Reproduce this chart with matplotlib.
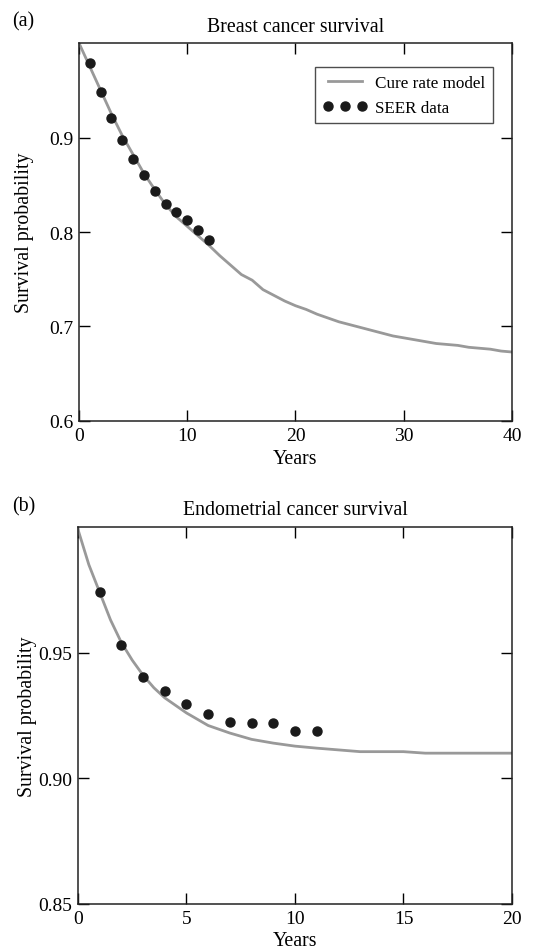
import matplotlib
matplotlib.use("Agg")
import matplotlib.pyplot as plt

plt.rcParams['font.family'] = ['Liberation Serif', 'DejaVu Serif']
plt.rcParams['mathtext.fontset'] = 'stix'

# Panel (a): breast cancer
a_model_years = list(range(0, 41))
a_model_surv = [1.000, 0.975, 0.950, 0.925, 0.902, 0.882, 0.862, 0.845, 0.829, 0.816,
                0.806, 0.796, 0.786, 0.775, 0.765, 0.755, 0.749, 0.739, 0.733, 0.727,
                0.722, 0.718, 0.713, 0.709, 0.705, 0.702, 0.699, 0.696, 0.693, 0.690,
                0.688, 0.686, 0.684, 0.682, 0.681, 0.680, 0.678, 0.677, 0.676, 0.674, 0.673]
a_seer_years = [1, 2, 3, 4, 5, 6, 7, 8, 9, 10, 11, 12]
a_seer_surv = [0.979, 0.948, 0.921, 0.897, 0.877, 0.860, 0.843, 0.830, 0.821, 0.813, 0.802, 0.792]

# Panel (b): endometrial cancer
b_model_years = [0, 0.5, 1, 1.5, 2, 2.5, 3, 3.5, 4, 5, 6, 7, 8, 9, 10, 11, 12, 13, 14, 15, 16, 17, 18, 19, 20]
b_model_surv = [0.999, 0.985, 0.974, 0.963, 0.954, 0.947, 0.941, 0.936, 0.932, 0.926, 0.921,
                0.918, 0.9155, 0.914, 0.9128, 0.912, 0.9113, 0.9106, 0.9106, 0.9106, 0.910,
                0.910, 0.910, 0.910, 0.910]
b_seer_years = [1, 2, 3, 4, 5, 6, 7, 8, 9, 10, 11]
b_seer_surv = [0.974, 0.953, 0.9405, 0.9346, 0.9294, 0.9255, 0.9223, 0.9219, 0.9219, 0.9188, 0.9188]

LINE_COLOR = '#999999'
DOT_COLOR = '#1a1a1a'

fig = plt.figure(figsize=(5.55, 9.53), dpi=100)
ax1 = fig.add_axes([0.1423, 0.5572, 0.7802, 0.3966])
ax2 = fig.add_axes([0.1405, 0.0504, 0.7820, 0.3956])


def style(ax):
    ax.tick_params(direction='in', length=8, width=1, top=True, right=True,
                   labelsize=14, pad=4)
    for s in ax.spines.values():
        s.set_linewidth(1.1)
        s.set_color('#222222')


ax1.plot(a_model_years, a_model_surv, color=LINE_COLOR, lw=2, label='Cure rate model', zorder=2)
ax1.plot(a_seer_years, a_seer_surv, 'o', color=DOT_COLOR, ms=6.5, label='SEER data', zorder=3)
ax1.set_xlim(0, 40)
ax1.set_ylim(0.6, 1.0)
ax1.set_xticks([0, 10, 20, 30, 40])
ax1.set_yticks([0.6, 0.7, 0.8, 0.9])
ax1.set_yticklabels(['0.6', '0.7', '0.8', '0.9'])
ax1.set_xlabel('Years', fontsize=14.3, labelpad=4)
ax1.set_ylabel('Survival probability', fontsize=14.3, labelpad=11)
ax1.set_title('Breast cancer survival', fontsize=14.3, pad=9)
style(ax1)
leg = ax1.legend(loc='upper right', numpoints=3, fontsize=12.3, frameon=True, fancybox=False,
                 edgecolor='#222222', handlelength=2.6, borderpad=0.45, labelspacing=0.5,
                 handletextpad=0.45, borderaxespad=0.5, bbox_to_anchor=(0.975, 0.958))
leg.get_frame().set_linewidth(1.0)

ax2.plot(b_model_years, b_model_surv, color=LINE_COLOR, lw=2, zorder=2)
ax2.plot(b_seer_years, b_seer_surv, 'o', color=DOT_COLOR, ms=6.5, zorder=3)
ax2.set_xlim(0, 20)
ax2.set_ylim(0.85, 1.0)
ax2.set_xticks([0, 5, 10, 15, 20])
ax2.set_yticks([0.85, 0.90, 0.95])
ax2.set_yticklabels(['0.85', '0.90', '0.95'])
ax2.set_xlabel('Years', fontsize=14.3, labelpad=3)
ax2.set_ylabel('Survival probability', fontsize=14.3, labelpad=1)
ax2.set_title('Endometrial cancer survival', fontsize=14.3, pad=9)
style(ax2)

fig.text(0.022, 0.977, '(a)', fontsize=14.3, ha='left', va='center')
fig.text(0.022, 0.468, '(b)', fontsize=14.3, ha='left', va='center')

fig.savefig('out.png', dpi=100)
